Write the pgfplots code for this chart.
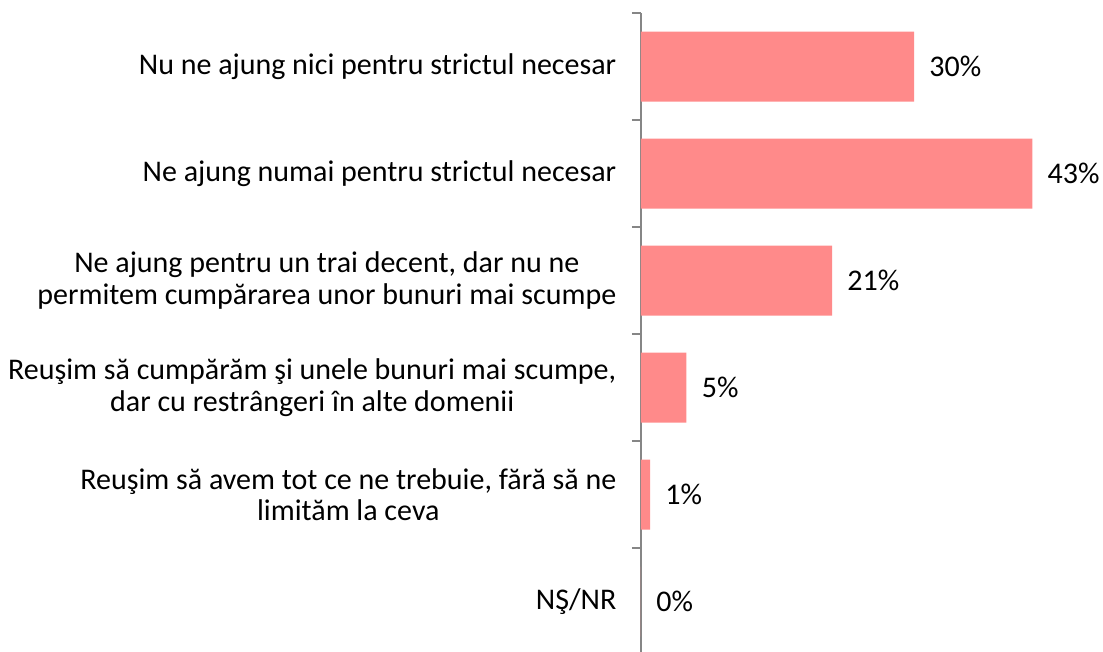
\documentclass[border=0pt]{standalone}
\usepackage{pgfplots}
\pgfplotsset{compat=1.18}
\usepackage{fontspec}
\setmainfont{Carlito}
\definecolor{barred}{RGB}{255,138,138}
\definecolor{axgray}{RGB}{134,134,134}
\begin{document}
\begin{tikzpicture}
\path[use as bounding box] (0,0) rectangle (827.25pt,-488.25pt);
\begin{axis}[
  at={(480.75pt,-9.75pt)}, anchor=north west,
  scale only axis,
  width=341.25pt, height=481.5pt,
  xmin=0, xmax=50,
  ymin=-0.5, ymax=5.5,
  y dir=reverse,
  axis x line=none,
  axis y line*=left,
  y axis line style={draw=axgray, line width=1.1pt, -},
  ytick={0,1,2,3,4,5},
  yticklabels={
    {Nu ne ajung nici pentru strictul necesar},
    {Ne ajung numai pentru strictul necesar},
    {Ne ajung pentru un trai decent, dar nu ne\\permitem cumpărarea unor bunuri mai scumpe},
    {Reuşim să cumpărăm şi unele bunuri mai scumpe,\\dar cu restrângeri în alte domenii},
    {Reuşim să avem tot ce ne trebuie, fără să ne\\limităm la ceva},
    {NŞ/NR}},
  major tick length=0pt,
  minor ytick={-0.5,0.5,1.5,2.5,3.5,4.5,5.5},
  minor tick length=6.75pt,
  tick align=outside,
  minor tick style={draw=axgray, line width=1.1pt},
  yticklabel style={align=center, anchor=east, font=\fontsize{22.5pt}{23.5pt}\selectfont, xshift=-15pt},
  xbar, bar width=52.5pt,
  clip=false,
  nodes near coords={\pgfmathprintnumber[assume math mode=true]{\pgfplotspointmeta}\%},
  nodes near coords style={font=\fontsize{22.5pt}{23.5pt}\selectfont, anchor=west, xshift=8pt},
  point meta=x,
]
\addplot[fill=barred, draw=none] coordinates {(30,0) (43,1) (21,2) (5,3) (1,4) (0,5)};
\end{axis}
\end{tikzpicture}
\end{document}
